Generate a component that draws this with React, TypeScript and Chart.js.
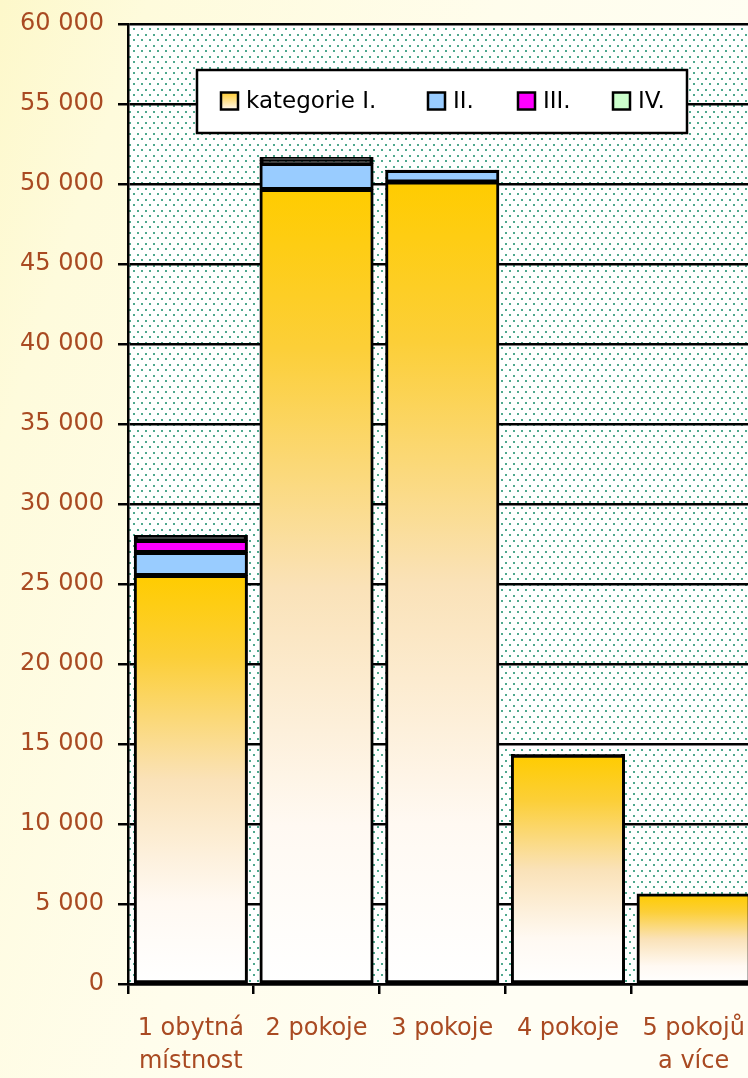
import React, { useEffect, useRef } from "react";
import { Chart, registerables } from "chart.js";

Chart.register(...registerables);

const categories: (string | string[])[] = [
  ["1 obytná", "místnost"],
  "2 pokoje",
  "3 pokoje",
  "4 pokoje",
  ["5 pokojů", "a více"],
];
const seriesLabels = ["kategorie I.", "II.", "III.", "IV."];
const catI = [25530, 49650, 50125, 14300, 5625];
const catII = [1440, 1630, 720, 40, 0];
const catIII = [750, 190, 20, 0, 0];
const catIV = [310, 185, 0, 0, 0];
const seriesColors = ["#FFCC00", "#99CCFF", "#FF00FF", "#CCFFCC"];
const yTicks = { min: 0, max: 60000, step: 5000 };

const FONT = "'DejaVu Sans', sans-serif";
const LABEL_COLOR = "#A94A22";

const fmt = (v: number) => String(v).replace(/\B(?=(\d{3})+(?!\d))/g, " ");

function goldGradient(ctx: CanvasRenderingContext2D, top: number, base: number) {
  const g = ctx.createLinearGradient(0, top, 0, base);
  g.addColorStop(0, "#FFCC00");
  g.addColorStop(0.2, "#FCCF38");
  g.addColorStop(0.5, "#FAE2B8");
  g.addColorStop(0.8, "#FFF9F2");
  g.addColorStop(1, "#FFFFFF");
  return g;
}

// thin segments are drawn as solid outline colour (border dominates)
const segColor = (color: string) => (c: any) => {
  const ch = c.chart;
  if (!ch.chartArea || c.type !== "data") return color;
  const y = ch.scales.y;
  const h = Math.abs(y.getPixelForValue(0) - y.getPixelForValue(c.raw));
  return h < 7 ? "#000000" : color;
};

function makePattern(ctx: CanvasRenderingContext2D) {
  const c = document.createElement("canvas");
  c.width = 8;
  c.height = 11;
  const p = c.getContext("2d")!;
  p.fillStyle = "#FFFFFF";
  p.fillRect(0, 0, 8, 11);
  p.fillStyle = "#4FA88E";
  p.fillRect(1, 1, 2, 2);
  p.fillRect(5, 6, 2, 2);
  return ctx.createPattern(c, "repeat")!;
}

const bgPlugin = {
  id: "bgPlugin",
  beforeDraw(chart: any) {
    const { ctx, width, height, chartArea } = chart;
    ctx.save();
    const g = ctx.createLinearGradient(0, 0, 748, 250);
    g.addColorStop(0, "#FDF8CA");
    g.addColorStop(0.18, "#FEFBDC");
    g.addColorStop(0.6, "#FFFDEC");
    g.addColorStop(1, "#FFFEF4");
    ctx.fillStyle = g;
    ctx.fillRect(0, 0, width, height);
    if (chartArea) {
      ctx.fillStyle = makePattern(ctx);
      ctx.fillRect(chartArea.left, chartArea.top, chartArea.right - chartArea.left, chartArea.bottom - chartArea.top);
    }
    ctx.restore();
  },
};

const legendPlugin = {
  id: "customLegend",
  afterDraw(chart: any) {
    const { ctx } = chart;
    ctx.save();
    ctx.fillStyle = "#FFFFFF";
    ctx.fillRect(197, 70, 490, 63);
    ctx.strokeStyle = "#000000";
    ctx.lineWidth = 2.5;
    ctx.strokeRect(197, 70, 490, 63);
    const xs = [221, 428, 518, 613];
    const size = 17;
    const cy = 101;
    chart.data.datasets.forEach((ds: any, i: number) => {
      const x = xs[i];
      const y = cy - size / 2;
      if (i === 0) {
        const g = ctx.createLinearGradient(0, y, 0, y + size);
        g.addColorStop(0, "#FFCC33");
        g.addColorStop(1, "#FFF8EE");
        ctx.fillStyle = g;
      } else {
        ctx.fillStyle = seriesColors[i];
      }
      ctx.fillRect(x, y, size, size);
      ctx.lineWidth = 2.5;
      ctx.strokeStyle = "#000000";
      ctx.strokeRect(x, y, size, size);
      ctx.fillStyle = "#000000";
      ctx.font = `23px ${FONT}`;
      ctx.textBaseline = "middle";
      ctx.textAlign = "left";
      ctx.fillText(ds.label, x + size + 8, cy + 1);
    });
    ctx.restore();
  },
};

export default function App() {
  const ref = useRef<HTMLCanvasElement | null>(null);

  useEffect(() => {
    const canvas = ref.current!;
    const common = {
      borderColor: "#000000",
      borderWidth: 3,
      borderSkipped: false,
      inflateAmount: 0.5,
      barPercentage: 0.9,
      categoryPercentage: 1.0,
    };
    const chart = new Chart(canvas, {
      type: "bar",
      data: {
        labels: categories,
        datasets: [
          {
            ...common,
            label: seriesLabels[0],
            data: catI,
            backgroundColor: (c: any) => {
              const ch = c.chart;
              if (!ch.chartArea || c.type !== "data") return seriesColors[0];
              const y = ch.scales.y;
              return goldGradient(ch.ctx, y.getPixelForValue(c.raw), y.getPixelForValue(0));
            },
          } as any,
          { ...common, label: seriesLabels[1], data: catII, backgroundColor: segColor(seriesColors[1]) } as any,
          { ...common, label: seriesLabels[2], data: catIII, backgroundColor: segColor(seriesColors[2]) } as any,
          { ...common, label: seriesLabels[3], data: catIV, backgroundColor: segColor(seriesColors[3]) } as any,
        ],
      },
      options: {
        responsive: false,
        animation: false,
        devicePixelRatio: 1,
        layout: { padding: { top: 24, right: 13.5, left: 0, bottom: 0 } },
        plugins: { legend: { display: false }, tooltip: { enabled: false } },
        scales: {
          x: {
            stacked: true,
            offset: true,
            grid: {
              display: true,
              drawOnChartArea: false,
              drawTicks: true,
              tickLength: 10,
              color: "#000000",
              lineWidth: 2.5,
              offset: true,
            },
            border: { display: true, color: "#000000", width: 2.5 },
            ticks: {
              autoSkip: false,
              maxRotation: 0,
              minRotation: 0,
              padding: 18,
              color: LABEL_COLOR,
              font: { family: FONT, size: 24, lineHeight: 1.38 },
            },
            afterFit: (s: any) => {
              s.height = 94;
              s.paddingLeft = 0;
              s.paddingRight = 0;
            },
          },
          y: {
            stacked: true,
            min: yTicks.min,
            max: yTicks.max,
            grid: {
              color: "#000000",
              lineWidth: 2.5,
              drawTicks: true,
              tickLength: 10,
            },
            border: { display: true, color: "#000000", width: 2.5 },
            ticks: {
              stepSize: yTicks.step,
              padding: 14,
              color: LABEL_COLOR,
              font: { family: FONT, size: 24 },
              callback: (v: any) => fmt(Number(v)),
            },
            afterFit: (s: any) => {
              s.width = 128;
              s.paddingTop = 0;
              s.paddingBottom = 0;
            },
          },
        },
      } as any,
      plugins: [bgPlugin, legendPlugin],
    });
    return () => chart.destroy();
  }, []);

  return (
    <div
      style={{
        position: "fixed",
        left: 0,
        top: 0,
        width: 748,
        height: 1078,
        overflow: "hidden",
        background: "#FFFFFF",
      }}
    >
      <canvas ref={ref} width={770} height={1078} style={{ display: "block" }} />
    </div>
  );
}
